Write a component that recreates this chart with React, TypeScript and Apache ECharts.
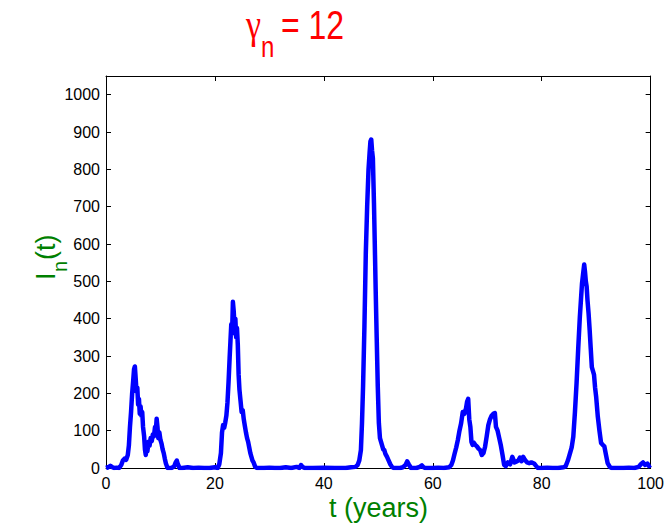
import React, { useEffect, useRef } from "react";
import * as echarts from "echarts";

const tYears: number[] = [
  0, 0.4, 0.8, 1.1, 1.5, 2.0, 2.4, 2.8, 3.1, 3.4, 3.7, 4.0, 4.2, 4.4, 4.6, 4.8, 5.0, 5.15, 5.3, 5.45,
  5.6, 5.75, 5.9, 6.05, 6.2, 6.35, 6.5, 6.65, 6.8, 7.0, 7.15, 7.3, 7.45, 7.6, 7.8, 8.0, 8.2, 8.4, 8.6, 8.8,
  9.0, 9.15, 9.3, 9.45, 9.6, 9.8, 10.0, 10.2, 10.4, 10.6, 10.8, 11.0, 11.3, 12.0, 12.5, 12.8, 13.0, 13.2, 13.5, 14,
  15, 16, 17, 18, 19, 20, 20.5, 20.8, 21.1, 21.3, 21.5, 21.7, 21.9, 22.1, 22.3, 22.5, 22.7, 22.85, 23.0, 23.15,
  23.3, 23.45, 23.6, 23.75, 23.9, 24.05, 24.2, 24.35, 24.5, 24.7, 24.9, 25.1, 25.3, 25.5, 25.7, 25.9, 26.1, 26.3, 26.5, 26.7,
  26.9, 27.1, 27.4, 27.7, 29, 30, 31, 32, 33, 34, 35, 35.5, 35.8, 36.1, 36.5, 38, 40, 42, 44, 45,
  45.8, 46.2, 46.5, 46.8, 47.0, 47.2, 47.45, 47.7, 47.95, 48.2, 48.4, 48.55, 48.7, 48.85, 49.0, 49.2, 49.35, 49.5, 49.7, 49.9,
  50.1, 50.3, 50.5, 50.7, 50.9, 51.1, 51.3, 51.6, 51.9, 52.2, 52.5, 52.8, 54, 54.5, 55.0, 55.3, 55.6, 56, 57, 57.6,
  58, 58.3, 58.6, 60, 61, 62, 63, 63.4, 63.7, 64.0, 64.3, 64.6, 64.9, 65.2, 65.5, 65.8, 66.1, 66.3, 66.5, 66.7,
  66.9, 67.1, 67.3, 67.5, 67.8, 68.1, 68.4, 68.7, 69.0, 69.3, 69.6, 69.9, 70.2, 70.5, 70.8, 71.1, 71.4, 71.6, 71.9, 72.2,
  72.5, 72.8, 73.1, 73.4, 73.8, 74.2, 74.6, 75.0, 75.3, 75.7, 76.0, 76.3, 76.6, 76.9, 77.3, 77.7, 78.1, 78.6, 79.0, 79.3,
  80, 81, 82, 83, 84, 84.4, 84.8, 85.2, 85.5, 85.8, 86.1, 86.4, 86.7, 87.0, 87.2, 87.4, 87.6, 87.8, 87.95, 88.1,
  88.25, 88.4, 88.6, 88.8, 89.0, 89.2, 89.4, 89.6, 89.8, 90.0, 90.3, 90.6, 90.9, 91.2, 91.5, 91.8, 92.1, 92.5, 92.8, 95,
  96, 97, 97.8, 98.2, 98.6, 99.0, 99.4, 99.7, 100,
];

const infected: number[] = [
  0, 2, 6, 3, 0, 1, 0, 8, 20, 25, 22, 35, 60, 110, 150, 200, 235, 265, 272, 240,
  205, 215, 170, 185, 145, 165, 140, 150, 110, 85, 50, 35, 55, 45, 70, 60, 80, 72, 90, 85,
  110, 100, 132, 110, 80, 95, 75, 65, 50, 40, 25, 12, 0, 0, 4, 15, 20, 10, 0, 0,
  2, 0, 1, 0, 0, 2, 0, 10, 40, 95, 115, 108, 122, 140, 175, 230, 295, 340, 385, 360,
  445, 420, 380, 400, 350, 375, 330, 250, 210, 180, 150, 155, 130, 112, 95, 80, 70, 55, 40, 30,
  20, 15, 3, 0, 0, 1, 0, 0, 2, 0, 3, 0, 8, 3, 0, 0, 1, 0, 0, 2,
  3, 8, 20, 48, 120, 220, 380, 575, 700, 800, 845, 875, 880, 850, 830, 710, 600, 486, 350, 218,
  120, 80, 70, 60, 50, 48, 38, 30, 20, 10, 3, 0, 0, 2, 8, 18, 10, 0, 0, 3,
  7, 2, 0, 0, 1, 0, 2, 8, 20, 38, 55, 75, 100, 120, 150, 145, 160, 178, 185, 130,
  110, 70, 62, 68, 62, 58, 52, 48, 35, 40, 57, 85, 115, 130, 140, 145, 147, 110, 100, 80,
  60, 35, 8, 5, 15, 10, 30, 15, 17, 20, 28, 18, 30, 22, 15, 13, 15, 12, 5, 0,
  0, 1, 0, 0, 2, 5, 20, 40, 55, 84, 150, 228, 320, 405, 450, 495, 520, 545, 525, 500,
  486, 450, 415, 370, 320, 270, 260, 250, 215, 190, 137, 100, 67, 62, 58, 35, 13, 3, 0, 0,
  1, 0, 3, 10, 15, 8, 12, 5, 8,
];

const xTicks = { min: 0, max: 100, interval: 20 };
const yTicks = { min: 0, max: 1050, interval: 100 };

const FONT = "'Liberation Sans', Arial, Helvetica, sans-serif";
const SERIF = "'Liberation Serif', 'Times New Roman', serif";
const RED = "#ff0000";
const GREEN = "#008000";
const CENTRAL = 0.3465;

function txt(text: string, x: number, baseline: number, fs: number, fill: string, sy = 1, family = FONT) {
  return {
    type: "text",
    x,
    y: baseline,
    scaleY: sy,
    style: {
      text,
      x: 0,
      y: -CENTRAL * fs,
      fill,
      fontSize: fs,
      fontFamily: family,
      align: "left",
      verticalAlign: "middle",
    },
    silent: true,
  };
}

export default function App() {
  const ref = useRef<HTMLDivElement>(null);
  useEffect(() => {
    if (!ref.current) return;
    const chart = echarts.init(ref.current, undefined, { renderer: "svg" });
    const data = tYears.map((t, i) => [t, infected[i]]);
    const axisCommon = {
      axisLine: { show: true, onZero: false, lineStyle: { color: "#000", width: 1 } },
      axisTick: { show: true, inside: true, length: 5, lineStyle: { color: "#000", width: 1 } },
      splitLine: { show: false },
    };
    const labelStyle = { color: "#000", fontSize: 16, fontFamily: FONT };
    chart.setOption({
      animation: false,
      backgroundColor: "#fff",
      grid: { left: 106, right: 15, top: 76, bottom: 55, containLabel: false },
      xAxis: [
        {
          type: "value",
          ...xTicks,
          position: "bottom",
          ...axisCommon,
          axisLabel: { ...labelStyle, margin: 7 },
        },
        {
          type: "value",
          ...xTicks,
          position: "top",
          ...axisCommon,
          axisLabel: { show: false },
        },
      ],
      yAxis: [
        {
          type: "value",
          ...yTicks,
          position: "left",
          ...axisCommon,
          axisLabel: {
            ...labelStyle,
            margin: 6,
            showMaxLabel: false,
            formatter: (v: number) => (v % 100 === 0 ? String(v) : ""),
          },
        },
        {
          type: "value",
          ...yTicks,
          position: "right",
          ...axisCommon,
          axisLabel: { show: false },
        },
      ],
      series: [
        {
          type: "line",
          xAxisIndex: 0,
          yAxisIndex: 0,
          data,
          showSymbol: false,
          symbol: "none",
          clip: true,
          z: 5,
          lineStyle: { color: "#0000ff", width: 4.5, join: "round" },
        },
      ],
      graphic: [
        txt("\u03b3", 246, 39, 34, RED, 1.2, SERIF),
        txt("n", 261, 57, 24, RED, 1.25),
        txt("= 12", 281, 39, 32, RED, 1.25),
        txt("t (years)", 329, 517, 27, GREEN),
        {
          type: "group",
          x: 55,
          y: 280,
          rotation: Math.PI / 2,
          children: [
            txt("I", 0, 0, 27, GREEN),
            txt("n", 8, 12, 20, GREEN),
            txt("(t)", 20, 0, 27, GREEN),
          ],
        },
      ],
    });
    return () => chart.dispose();
  }, []);
  return (
    <div
      ref={ref}
      style={{ position: "absolute", left: 0, top: 0, width: 667, height: 523 }}
    />
  );
}
